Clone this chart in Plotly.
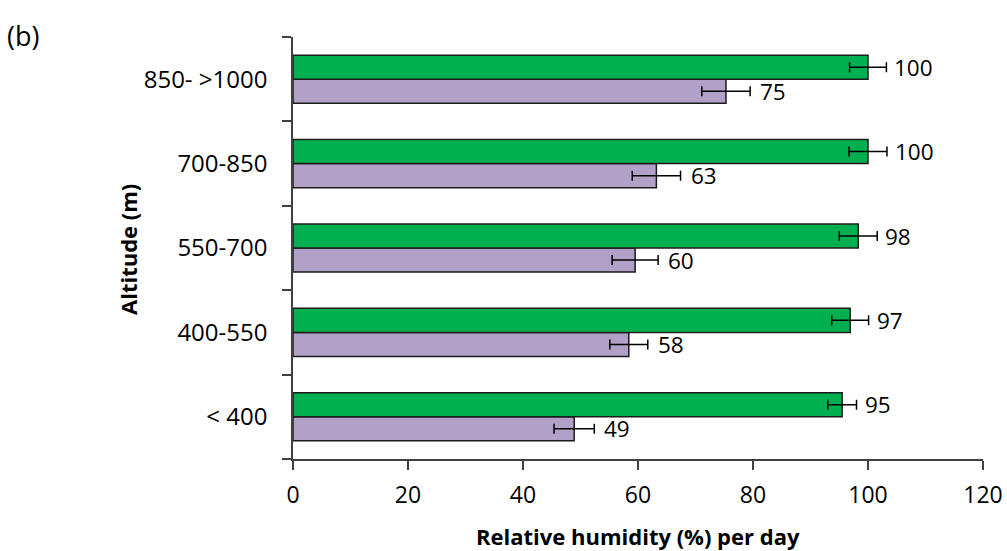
import plotly.graph_objects as go

categories = ["< 400", "400-550", "550-700", "700-850", "850- >1000"]
green_vals = [95.5, 96.9, 98.3, 100.0, 100.0]
green_err = [2.5, 3.2, 3.3, 3.3, 3.2]
purple_vals = [48.9, 58.4, 59.5, 63.2, 75.3]
purple_err = [3.5, 3.3, 4.0, 4.2, 4.2]
green_labels = ["95", "97", "98", "100", "100"]
purple_labels = ["49", "58", "60", "63", "75"]

FONT = "Open Sans"
GREEN = "#00B050"
PURPLE = "#B1A0C7"

L, R, T, B = 293, 24, 37, 92
W, H = 1007, 551
PW, PH = W - L - R, H - T - B

def px_x(px):
    return (px - L) / PW

def px_y(py):
    return (H - B - py) / PH

fig = go.Figure()
fig.add_trace(go.Bar(
    y=categories, x=purple_vals, orientation="h", name="purple",
    marker=dict(color=PURPLE, line=dict(color="#1a1a1a", width=1.5)),
    error_x=dict(type="data", array=purple_err, color="black", thickness=1.5, width=5),
))
fig.add_trace(go.Bar(
    y=categories, x=green_vals, orientation="h", name="green",
    marker=dict(color=GREEN, line=dict(color="#1a1a1a", width=1.5)),
    error_x=dict(type="data", array=green_err, color="black", thickness=1.5, width=5),
))

annotations = []
for i, c in enumerate(categories):
    annotations.append(dict(
        x=green_vals[i] + green_err[i], y=c, xref="x", yref="y",
        text=green_labels[i], showarrow=False, xanchor="left",
        xshift=6, yshift=12, font=dict(family=FONT, size=22.5, color="black")))
    annotations.append(dict(
        x=purple_vals[i] + purple_err[i], y=c, xref="x", yref="y",
        text=purple_labels[i], showarrow=False, xanchor="left",
        xshift=8, yshift=-12, font=dict(family=FONT, size=22.5, color="black")))

annotations.append(dict(
    x=px_x(5), y=px_y(35), xref="paper", yref="paper", text="(b)", showarrow=False,
    xanchor="left", yanchor="middle",
    font=dict(family=FONT, size=27, color="black")))
annotations.append(dict(
    x=px_x(638), y=px_y(536), xref="paper", yref="paper",
    text="<b>Relative humidity (%) per day</b>", showarrow=False,
    xanchor="center", yanchor="middle",
    font=dict(family=FONT, size=22, color="black")))
annotations.append(dict(
    x=px_x(128), y=px_y(250), xref="paper", yref="paper",
    text="<b>Altitude (m)</b>", showarrow=False, textangle=-90,
    xanchor="center", yanchor="middle",
    font=dict(family=FONT, size=22, color="black")))

fig.update_layout(
    width=W, height=H,
    margin=dict(l=L, r=R, t=T, b=B),
    paper_bgcolor="white", plot_bgcolor="white",
    barmode="group", bargap=0.43, bargroupgap=0,
    showlegend=False,
    font=dict(family=FONT, size=22, color="black"),
    xaxis=dict(
        range=[0, 120], dtick=20, tick0=0, automargin=False,
        showgrid=False, zeroline=False,
        showline=True, linecolor="#404040", linewidth=1.5,
        ticks="outside", ticklen=9, tickwidth=1.5, tickcolor="#404040",
        ticklabelstandoff=6,
        tickfont=dict(family=FONT, size=23),
    ),
    yaxis=dict(
        type="category", categoryorder="array", categoryarray=categories,
        automargin=False,
        showgrid=False, zeroline=False,
        showline=True, linecolor="#404040", linewidth=1.5,
        ticks="outside", ticklen=9, tickwidth=1.5, tickcolor="#404040",
        tickson="boundaries", ticklabelstandoff=19,
        tickfont=dict(family=FONT, size=24),
    ),
    annotations=annotations,
)

fig.write_html("out.html")
